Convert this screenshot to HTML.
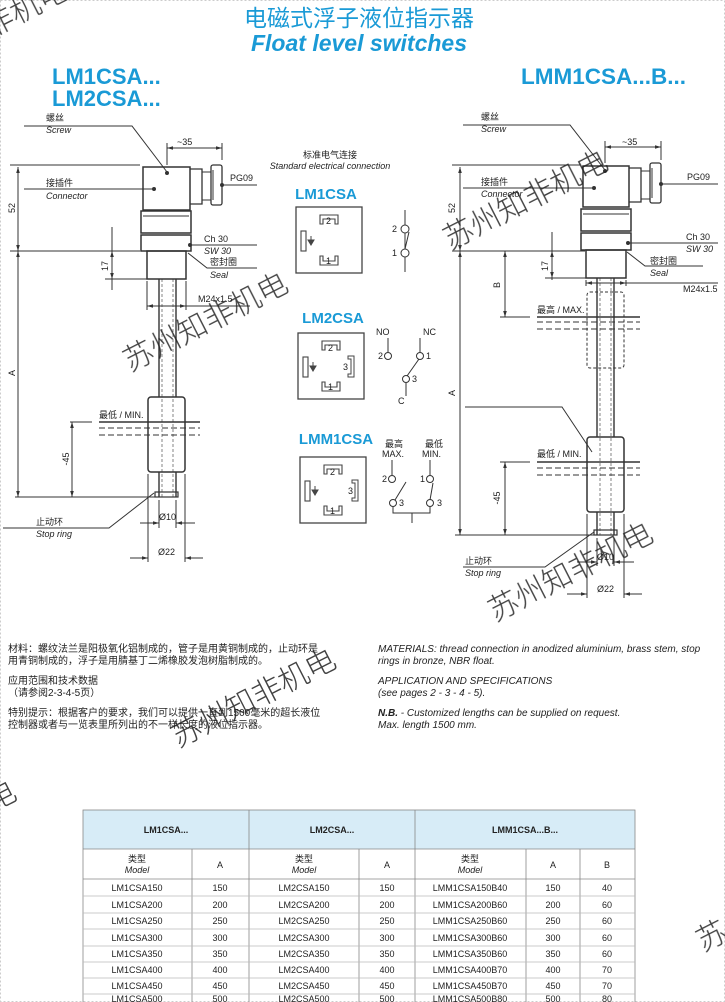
<!DOCTYPE html>
<html><head><meta charset="utf-8"><style>
html,body{margin:0;padding:0;background:#fff}
svg{display:block}
text{font-family:"Liberation Sans","Noto Sans CJK SC",sans-serif;fill:#222}
.t{font-size:9px}
.i{font-size:9px;font-style:italic}
.b{fill:#1a9ad6;font-weight:bold}
.wm{font-family:"Noto Serif CJK SC","Noto Sans CJK SC",serif;font-size:30px;fill:#444;font-weight:300}
.tb{font-size:9px;fill:#333}
</style></head><body>
<svg width="725" height="1002" viewBox="0 0 725 1002" xmlns="http://www.w3.org/2000/svg">
<defs>
<marker id="a" viewBox="0 0 10 10" refX="10" refY="5" markerWidth="6" markerHeight="6" orient="auto-start-reverse"><path d="M0,2 L10,5 L0,8 z" fill="#333"/></marker>
<g id="pinbox">
 <rect x="0" y="0" width="66" height="66" fill="none" stroke="#444" stroke-width="1.3"/>
 <path d="M24,17 V8 H42 V17 H39 V12 H27 V17 Z" fill="none" stroke="#444" stroke-width="1.1"/>
 <path d="M24,49 V58 H42 V49 H39 V54 H27 V49 Z" fill="none" stroke="#444" stroke-width="1.1"/>
 <rect x="5" y="24" width="5" height="20" fill="none" stroke="#444" stroke-width="1.1"/>
 <path d="M15,29 V33 M12,33 H18 L15,38 Z" stroke="#444" fill="#444" stroke-width="1"/>
</g>
</defs>
<rect x="0.5" y="0.5" width="724" height="1001" fill="none" stroke="#ccc" stroke-dasharray="2,2"/>

<!-- titles -->
<text x="359" y="26" text-anchor="middle" style="font-size:23px;fill:#1a9ad6">电磁式浮子液位指示器</text>
<text x="359" y="51" text-anchor="middle" class="b" style="font-size:23px;font-style:italic">Float level switches</text>
<text x="52" y="84" class="b" style="font-size:22px">LM1CSA...</text>
<text x="52" y="106" class="b" style="font-size:22px">LM2CSA...</text>
<text x="521" y="84" class="b" style="font-size:22.5px">LMM1CSA...B...</text>

<!-- LEFT DEVICE -->
<g stroke="#333" fill="none" stroke-width="1">
 <path d="M24,126 H132 L167,172"/>
 <circle cx="167" cy="173" r="1.5" fill="#333"/>
 <path d="M24,189 H154"/><circle cx="154" cy="189" r="1.5" fill="#333"/>
 <path d="M167,143 V165 M222,143 V160"/>
 <path d="M167,148 H222" marker-start="url(#a)" marker-end="url(#a)"/>
 <rect x="143" y="167" width="47" height="43" stroke-width="1.5"/>
 <path d="M190,169 H202 V204 H190" stroke-width="1.3"/>
 <rect x="211" y="165" width="11" height="40" rx="2" stroke-width="1.3"/>
 <path d="M202,172 H211 M202,200 H211 M213,170 V200" />
 <path d="M222,185 H257"/><circle cx="222" cy="185" r="1.5" fill="#333"/>
 <rect x="141" y="211" width="50" height="22" stroke-width="1.5"/>
 <path d="M143,216 H189"/>
 <rect x="141" y="235" width="50" height="16" stroke-width="1.5"/>
 <rect x="147" y="251" width="39" height="28" stroke-width="1.5"/>
 <path d="M190,245 H257"/><circle cx="190" cy="245" r="1.5" fill="#333"/>
 <path d="M188,253 L207,268 H257"/>
 <path d="M159,279 V397 M176,279 V397" stroke-width="1.4"/>
 <path d="M162,279 V497 M173,279 V497" stroke-dasharray="3,2" stroke-width="0.6"/>
 <rect x="148" y="397" width="37" height="75" rx="3" stroke-width="1.5"/>
 <path d="M159,472 V497 M176,472 V497" stroke-width="1.4"/>
 <rect x="155" y="492" width="23" height="5" stroke-width="1.2"/>
 <path d="M10,165 H140 M10,251 H140"/>
 <path d="M18,167 V251" marker-start="url(#a)" marker-end="url(#a)"/>
 <path d="M112,227 V290"/>
 <path d="M112,251 V279" marker-start="url(#a)" marker-end="url(#a)"/>
 <path d="M105,279 H147"/>
 <path d="M147,281 V310 M186,281 V310"/>
 <path d="M147,306 H186" marker-start="url(#a)" marker-end="url(#a)"/>
 <path d="M186,306 H250"/>
 <path d="M18,251 V497" marker-start="url(#a)" marker-end="url(#a)"/>
 <path d="M15,497 H155"/>
 <path d="M99,422 H200" stroke-width="1.4"/>
 <path d="M99,428 H200 M99,435 H200" stroke-dasharray="6,3"/>
 <path d="M70,422 H92"/>
 <path d="M72,422 V497" marker-start="url(#a)" marker-end="url(#a)"/>
 <path d="M154,493 L109,528 H3"/>
 <path d="M159,500 V528 M176,500 V528 M148,474 V562 M185,474 V562"/>
 <path d="M140,523 H159" marker-end="url(#a)"/><path d="M195,523 H176" marker-end="url(#a)"/>
 <path d="M130,558 H148" marker-end="url(#a)"/><path d="M203,558 H185" marker-end="url(#a)"/>
</g>
<text x="46" y="121" class="t">螺丝</text><text x="46" y="133" class="i">Screw</text>
<text x="46" y="186" class="t">接插件</text><text x="46" y="199" class="i">Connector</text>
<text x="177" y="145" class="t">~35</text>
<text x="230" y="181" class="t">PG09</text>
<text x="204" y="242" class="t">Ch 30</text><text x="204" y="254" class="i">SW 30</text>
<text x="210" y="265" class="t">密封圈</text><text x="210" y="278" class="i">Seal</text>
<text x="198" y="302" class="t">M24x1.5</text>
<text x="15" y="208" class="t" transform="rotate(-90 15 208)" text-anchor="middle">52</text>
<text x="108" y="266" class="t" transform="rotate(-90 108 266)" text-anchor="middle">17</text>
<text x="15" y="373" class="t" transform="rotate(-90 15 373)" text-anchor="middle">A</text>
<text x="69" y="459" class="t" transform="rotate(-90 69 459)" text-anchor="middle">-45</text>
<text x="99" y="418" class="t">最低 / MIN.</text>
<text x="36" y="525" class="t">止动环</text><text x="36" y="537" class="i">Stop ring</text>
<text x="159" y="520" class="t">Ø10</text>
<text x="158" y="555" class="t">Ø22</text>

<!-- MIDDLE -->
<text x="330" y="158" class="t" text-anchor="middle">标准电气连接</text>
<text x="330" y="169" class="i" text-anchor="middle">Standard electrical connection</text>
<text x="326" y="199" class="b" style="font-size:15px" text-anchor="middle">LM1CSA</text>
<use href="#pinbox" x="296" y="207"/>
<text x="326" y="224" class="t">2</text><text x="326" y="264" class="t">1</text>
<g stroke="#333" fill="none" stroke-width="1">
 <path d="M405,210 V225 M405,233 V249 M405,257 V272"/>
 <circle cx="405" cy="229" r="4"/><circle cx="405" cy="253" r="4"/>
 <path d="M405,249 L409,232"/>
</g>
<text x="392" y="232" class="t">2</text><text x="392" y="256" class="t">1</text>

<text x="333" y="323" class="b" style="font-size:15px" text-anchor="middle">LM2CSA</text>
<use href="#pinbox" x="298" y="333"/>
<text x="328" y="351" class="t">2</text><text x="328" y="390" class="t">1</text>
<path d="M348,356 H354 V377 H348 V374 H351 V359 H348 Z" fill="none" stroke="#444"/>
<text x="343" y="370" class="t">3</text>
<text x="376" y="335" class="t">NO</text><text x="423" y="335" class="t">NC</text>
<g stroke="#333" fill="none" stroke-width="1">
 <path d="M388,338 V352 M420,338 V352"/>
 <circle cx="388" cy="356" r="3.5"/><circle cx="420" cy="356" r="3.5"/><circle cx="406" cy="379" r="3.5"/>
 <path d="M406,383 V396 M407,376 L419,359"/>
</g>
<text x="378" y="359" class="t">2</text><text x="426" y="359" class="t">1</text><text x="412" y="382" class="t">3</text><text x="398" y="404" class="t">C</text>

<text x="336" y="444" class="b" style="font-size:15px" text-anchor="middle">LMM1CSA</text>
<use href="#pinbox" x="300" y="457"/>
<text x="330" y="475" class="t">2</text><text x="330" y="514" class="t">1</text>
<path d="M352,480 H358 V501 H352 V498 H355 V483 H352 Z" fill="none" stroke="#444"/>
<text x="348" y="494" class="t">3</text>
<text x="385" y="447" class="t">最高</text><text x="382" y="457" class="t">MAX.</text>
<text x="425" y="447" class="t">最低</text><text x="422" y="457" class="t">MIN.</text>
<g stroke="#333" fill="none" stroke-width="1">
 <path d="M392,460 V475 M430,460 V475"/>
 <circle cx="392" cy="479" r="3.5"/><circle cx="430" cy="479" r="3.5"/>
 <circle cx="393" cy="503" r="3.5"/><circle cx="430" cy="503" r="3.5"/>
 <path d="M395,500 L406,482 M430,500 L433,483 M393,507 V513 H430 V507 M412,513 V523"/>
</g>
<text x="382" y="482" class="t">2</text><text x="420" y="482" class="t">1</text>
<text x="399" y="506" class="t">3</text><text x="437" y="506" class="t">3</text>

<!-- RIGHT DEVICE -->
<g stroke="#333" fill="none" stroke-width="1">
 <path d="M463,125 H570 L605,170"/><circle cx="605" cy="171" r="1.5" fill="#333"/>
 <path d="M463,188 H594"/><circle cx="594" cy="188" r="1.5" fill="#333"/>
 <path d="M605,141 V163 M661,141 V160"/>
 <path d="M605,147 H661" marker-start="url(#a)" marker-end="url(#a)"/>
 <rect x="583" y="166" width="46" height="41" stroke-width="1.5"/>
 <path d="M629,168 H641 V202 H629" stroke-width="1.3"/>
 <rect x="650" y="163" width="11" height="40" rx="2" stroke-width="1.3"/>
 <path d="M641,171 H650 M641,199 H650 M652,168 V198"/>
 <path d="M661,184 H718"/><circle cx="661" cy="184" r="1.5" fill="#333"/>
 <rect x="581" y="209" width="50" height="22" stroke-width="1.5"/>
 <path d="M583,214 H629"/>
 <rect x="581" y="233" width="50" height="17" stroke-width="1.5"/>
 <rect x="586" y="250" width="40" height="28" stroke-width="1.5"/>
 <path d="M629,243 H718"/><circle cx="628" cy="243" r="1.5" fill="#333"/>
 <path d="M627,252 L645,266 H703"/>
 <path d="M586,280 V286 M626,280 V286"/>
 <path d="M586,283 H626" marker-start="url(#a)" marker-end="url(#a)"/>
 <path d="M626,283 H718"/>
 <path d="M597,278 V437 M614,278 V437" stroke-width="1.4"/>
 <path d="M600,278 V535 M611,278 V535" stroke-dasharray="3,2" stroke-width="0.6"/>
 <rect x="587" y="292" width="37" height="76" rx="3" stroke-dasharray="3,2"/>
 <rect x="587" y="437" width="37" height="75" rx="3" stroke-width="1.5"/>
 <path d="M597,512 V535 M614,512 V535" stroke-width="1.4"/>
 <rect x="594" y="530" width="23" height="5" stroke-width="1.2"/>
 <path d="M452,165 H580 M452,251 H585"/>
 <path d="M460,167 V251" marker-start="url(#a)" marker-end="url(#a)"/>
 <path d="M460,251 V535" marker-start="url(#a)" marker-end="url(#a)"/>
 <path d="M455,535 H594"/>
 <path d="M552,232 V280 M545,278 H586"/>
 <path d="M552,251 V278" marker-start="url(#a)" marker-end="url(#a)"/>
 <path d="M505,251 V317" marker-start="url(#a)" marker-end="url(#a)"/>
 <path d="M500,317 H530"/>
 <path d="M537,317 H640" stroke-width="1.4"/>
 <path d="M537,322 H640 M537,329 H640" stroke-dasharray="6,3"/>
 <path d="M537,462 H640" stroke-width="1.4"/>
 <path d="M537,468 H640 M537,475 H640" stroke-dasharray="6,3"/>
 <path d="M500,462 H530"/>
 <path d="M505,462 V535" marker-start="url(#a)" marker-end="url(#a)"/>
 <path d="M465,407 H562 L592,452"/>
 <path d="M594,532 L545,567 H463"/>
 <path d="M597,538 V566 M614,538 V566 M587,514 V598 M624,514 V598"/>
 <path d="M577,562 H597" marker-end="url(#a)"/><path d="M634,562 H614" marker-end="url(#a)"/>
 <path d="M567,594 H587" marker-end="url(#a)"/><path d="M642,594 H624" marker-end="url(#a)"/>
</g>
<text x="481" y="120" class="t">螺丝</text><text x="481" y="132" class="i">Screw</text>
<text x="481" y="185" class="t">接插件</text><text x="481" y="197" class="i">Connector</text>
<text x="622" y="145" class="t">~35</text>
<text x="687" y="180" class="t">PG09</text>
<text x="686" y="240" class="t">Ch 30</text><text x="686" y="252" class="i">SW 30</text>
<text x="650" y="264" class="t">密封圈</text><text x="650" y="276" class="i">Seal</text>
<text x="683" y="292" class="t">M24x1.5</text>
<text x="455" y="208" class="t" transform="rotate(-90 455 208)" text-anchor="middle">52</text>
<text x="548" y="266" class="t" transform="rotate(-90 548 266)" text-anchor="middle">17</text>
<text x="500" y="285" class="t" transform="rotate(-90 500 285)" text-anchor="middle">B</text>
<text x="455" y="393" class="t" transform="rotate(-90 455 393)" text-anchor="middle">A</text>
<text x="500" y="498" class="t" transform="rotate(-90 500 498)" text-anchor="middle">-45</text>
<text x="537" y="313" class="t">最高 / MAX.</text>
<text x="537" y="457" class="t">最低 / MIN.</text>
<text x="465" y="564" class="t">止动环</text><text x="465" y="576" class="i">Stop ring</text>
<text x="597" y="560" class="t">Ø10</text>
<text x="597" y="592" class="t">Ø22</text>

<!-- text block -->
<g style="font-size:10px">
<text x="8" y="652">材料：螺纹法兰是阳极氧化铝制成的，管子是用黄铜制成的，止动环是</text>
<text x="8" y="664">用青铜制成的，浮子是用腈基丁二烯橡胶发泡树脂制成的。</text>
<text x="8" y="684">应用范围和技术数据</text>
<text x="8" y="696">（请参阅2-3-4-5页）</text>
<text x="8" y="716">特别提示：根据客户的要求，我们可以提供一直到1500毫米的超长液位</text>
<text x="8" y="728">控制器或者与一览表里所列出的不一样长度的液位指示器。</text>
<g style="font-style:italic">
<text x="378" y="652">MATERIALS: thread connection in anodized aluminium, brass stem, stop</text>
<text x="378" y="664">rings in bronze, NBR float.</text>
<text x="378" y="684">APPLICATION AND SPECIFICATIONS</text>
<text x="378" y="696">(see pages 2 - 3 - 4 - 5).</text>
<text x="378" y="716"><tspan font-weight="bold">N.B.</tspan> - Customized lengths can be supplied on request.</text>
<text x="378" y="728">Max. length 1500 mm.</text>
</g></g>

<!-- table -->
<rect x="83" y="810" width="552" height="39" fill="#d7ecf7"/>
<g stroke="#888" stroke-width="0.8" fill="none">
 <rect x="83" y="810" width="552" height="195"/>
 <path d="M83,849 H635 M83,879 H635"/>
 <path d="M249,810 V1002 M415,810 V1002 M192,849 V1002 M359,849 V1002 M526,849 V1002 M580,849 V1002"/>
 <path d="M83,896 H635 M83,913 H635 M83,929 H635 M83,946 H635 M83,962 H635 M83,978 H635 M83,994 H635" stroke="#bbb"/>
</g>
<g class="tb" text-anchor="middle" style="font-size:9px">
<text x="166" y="833" style="font-weight:bold">LM1CSA...</text>
<text x="332" y="833" style="font-weight:bold">LM2CSA...</text>
<text x="525" y="833" style="font-weight:bold">LMM1CSA...B...</text>
<text x="137" y="862">类型</text><text x="137" y="873" font-style="italic">Model</text><text x="220" y="868">A</text>
<text x="304" y="862">类型</text><text x="304" y="873" font-style="italic">Model</text><text x="387" y="868">A</text>
<text x="470" y="862">类型</text><text x="470" y="873" font-style="italic">Model</text><text x="553" y="868">A</text><text x="607" y="868">B</text>
</g>
<g class="tb" text-anchor="middle">
<text x="137" y="891">LM1CSA150</text><text x="220" y="891">150</text><text x="304" y="891">LM2CSA150</text><text x="387" y="891">150</text><text x="470" y="891">LMM1CSA150B40</text><text x="553" y="891">150</text><text x="607" y="891">40</text>
<text x="137" y="908">LM1CSA200</text><text x="220" y="908">200</text><text x="304" y="908">LM2CSA200</text><text x="387" y="908">200</text><text x="470" y="908">LMM1CSA200B60</text><text x="553" y="908">200</text><text x="607" y="908">60</text>
<text x="137" y="924">LM1CSA250</text><text x="220" y="924">250</text><text x="304" y="924">LM2CSA250</text><text x="387" y="924">250</text><text x="470" y="924">LMM1CSA250B60</text><text x="553" y="924">250</text><text x="607" y="924">60</text>
<text x="137" y="941">LM1CSA300</text><text x="220" y="941">300</text><text x="304" y="941">LM2CSA300</text><text x="387" y="941">300</text><text x="470" y="941">LMM1CSA300B60</text><text x="553" y="941">300</text><text x="607" y="941">60</text>
<text x="137" y="957">LM1CSA350</text><text x="220" y="957">350</text><text x="304" y="957">LM2CSA350</text><text x="387" y="957">350</text><text x="470" y="957">LMM1CSA350B60</text><text x="553" y="957">350</text><text x="607" y="957">60</text>
<text x="137" y="973">LM1CSA400</text><text x="220" y="973">400</text><text x="304" y="973">LM2CSA400</text><text x="387" y="973">400</text><text x="470" y="973">LMM1CSA400B70</text><text x="553" y="973">400</text><text x="607" y="973">70</text>
<text x="137" y="989">LM1CSA450</text><text x="220" y="989">450</text><text x="304" y="989">LM2CSA450</text><text x="387" y="989">450</text><text x="470" y="989">LMM1CSA450B70</text><text x="553" y="989">450</text><text x="607" y="989">70</text>
<text x="137" y="1002">LM1CSA500</text><text x="220" y="1002">500</text><text x="304" y="1002">LM2CSA500</text><text x="387" y="1002">500</text><text x="470" y="1002">LMM1CSA500B80</text><text x="553" y="1002">500</text><text x="607" y="1002">80</text>
</g>

<!-- watermarks -->
<g class="wm" opacity="0.85">
<text x="130" y="372" transform="rotate(-27 130 372)">苏州知非机电</text>
<text x="450" y="250" transform="rotate(-27 450 250)">苏州知非机电</text>
<text x="178" y="748" transform="rotate(-27 178 748)">苏州知非机电</text>
<text x="495" y="622" transform="rotate(-27 495 622)">苏州知非机电</text>
<text x="-10" y="38" transform="rotate(-27 -10 38)">非机电</text>
<text x="-8" y="812" transform="rotate(-27 -8 812)">电</text>
<text x="703" y="952" transform="rotate(-27 703 952)">苏</text>
</g>
</svg>
</body></html>
